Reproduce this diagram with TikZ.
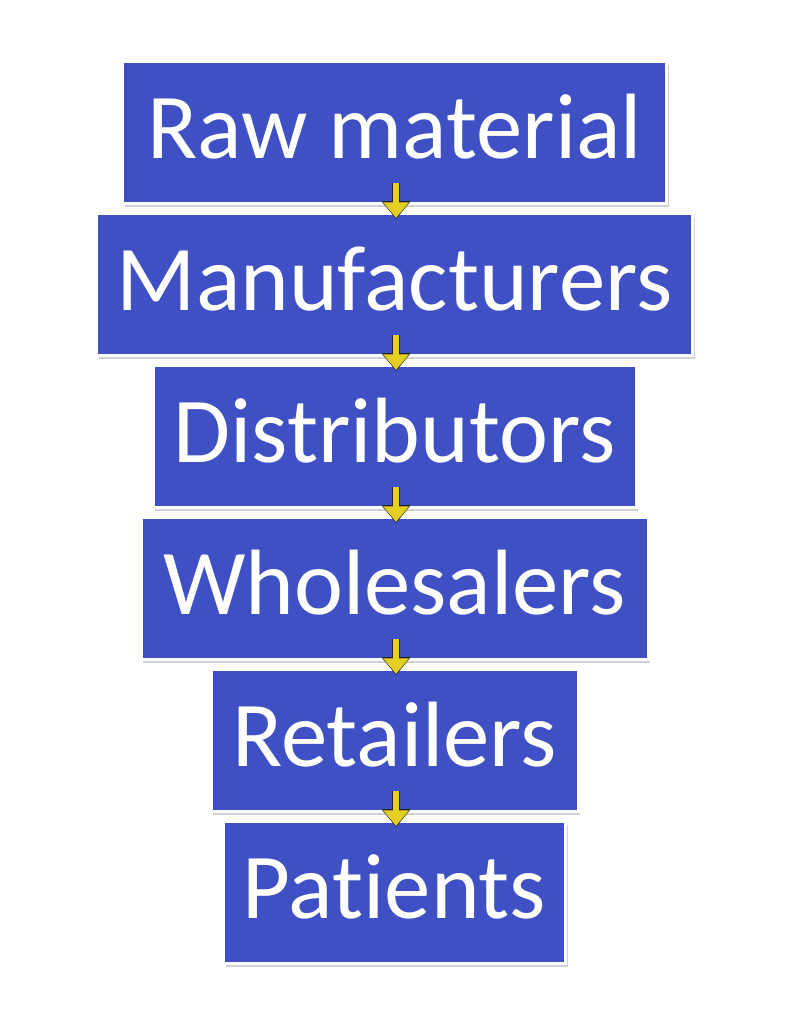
\documentclass[tikz,border=0pt]{standalone}
\usepackage{fontspec}
\setmainfont{Carlito}[Ligatures=NoCommon]
\usepackage{tikz}
\usetikzlibrary{arrows.meta, positioning, shadows}
\definecolor{boxblue}{RGB}{63,80,196}
\definecolor{arrowyellow}{RGB}{228,208,36}

\begin{document}
\begin{tikzpicture}[
  node distance=0.25cm,
  stage/.style={draw=white, line width=0.075cm, fill=boxblue, text=white,
                minimum height=3.55cm, inner sep=0pt, outer sep=0pt,
                font=\fontsize{66}{72}\selectfont, text height=1.5cm, text depth=0.2cm,
                drop shadow={shadow xshift=0.06cm, shadow yshift=-0.08cm,
                             fill=black, opacity=0.18}},
  flow/.style={preaction={draw=black!85, line width=0.2cm, shorten >=0pt,
                          -{Triangle[width=0.7cm, length=0.45cm]}},
               draw=arrowyellow, line width=0.15cm, shorten >=0.03cm,
               -{Triangle[width=0.62cm, length=0.39cm]}}
]
\useasboundingbox (0,0) rectangle (19.75,-25.6);

% Supply chain stages
\node[stage, minimum width=13.6cm] (raw) at (9.8625,-3.3125) {Raw material};
\node[stage, minimum width=14.9cm, below=of raw] (manu) {Manufacturers};
\node[stage, minimum width=12.075cm, below=of manu] (dist) {Distributors};
\node[stage, minimum width=12.675cm, below=of dist] (whole) {Wholesalers};
\node[stage, minimum width=9.175cm, below=of whole] (retail) {Retailers};
\node[stage, minimum width=8.55cm, below=of retail] (pat) {Patients};

% Arrows
\draw[flow] ([xshift=0.04cm, yshift=0.51cm]raw.south) -- ([xshift=0.04cm, yshift=-0.14cm]manu.north);
\draw[flow] ([xshift=0.04cm, yshift=0.51cm]manu.south) -- ([xshift=0.04cm, yshift=-0.14cm]dist.north);
\draw[flow] ([xshift=0.04cm, yshift=0.51cm]dist.south) -- ([xshift=0.04cm, yshift=-0.14cm]whole.north);
\draw[flow] ([xshift=0.04cm, yshift=0.51cm]whole.south) -- ([xshift=0.04cm, yshift=-0.14cm]retail.north);
\draw[flow] ([xshift=0.04cm, yshift=0.51cm]retail.south) -- ([xshift=0.04cm, yshift=-0.14cm]pat.north);

\end{tikzpicture}
\end{document}
